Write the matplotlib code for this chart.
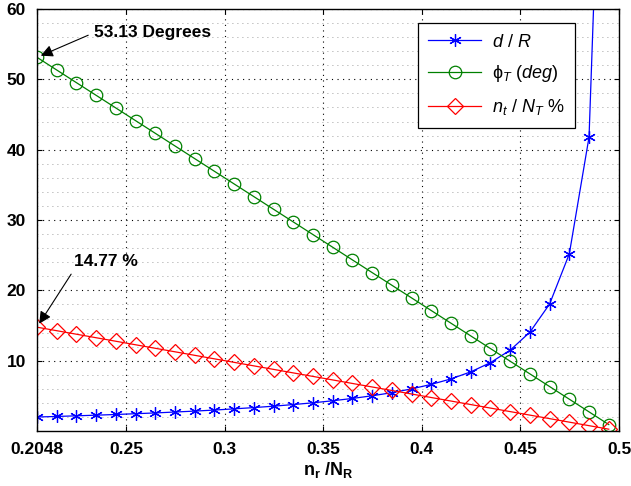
import matplotlib
matplotlib.use("Agg")
import matplotlib.pyplot as plt
from matplotlib.ticker import MultipleLocator

plt.rcParams['font.family'] = ['Liberation Sans', 'DejaVu Sans']
plt.rcParams['mathtext.fontset'] = 'custom'
plt.rcParams['mathtext.rm'] = 'Liberation Sans'
plt.rcParams['mathtext.it'] = 'Liberation Sans:italic'
plt.rcParams['mathtext.bf'] = 'Liberation Sans:bold'

# n_r / N_R
x = [0.2048, 0.2148, 0.2248, 0.2348, 0.2448, 0.2548, 0.2648, 0.2748, 0.2848, 0.2948,
     0.3048, 0.3148, 0.3248, 0.3348, 0.3448, 0.3548, 0.3648, 0.3748, 0.3848, 0.3948,
     0.4048, 0.4148, 0.4248, 0.4348, 0.4448, 0.4548, 0.4648, 0.4748, 0.4848, 0.4948]

d_R = [2.00, 2.08, 2.17, 2.26, 2.36, 2.47, 2.58, 2.71, 2.84, 2.99,
       3.16, 3.34, 3.54, 3.77, 4.02, 4.31, 4.64, 5.02, 5.46, 6.00,
       6.64, 7.42, 8.42, 9.73, 11.50, 14.06, 18.06, 25.2, 41.8, 121.9]

phi_T = [53.13, 51.33, 49.53, 47.73, 45.93, 44.13, 42.33, 40.53, 38.73, 36.93,
         35.13, 33.33, 31.53, 29.73, 27.93, 26.13, 24.33, 22.53, 20.73, 18.93,
         17.13, 15.33, 13.53, 11.73, 9.93, 8.13, 6.33, 4.53, 2.73, 0.93]

nt_NT = [14.77, 14.27, 13.77, 13.27, 12.77, 12.27, 11.77, 11.27, 10.77, 10.27,
         9.77, 9.27, 8.77, 8.27, 7.77, 7.27, 6.77, 6.27, 5.77, 5.27,
         4.77, 4.27, 3.77, 3.27, 2.77, 2.27, 1.77, 1.27, 0.77, 0.27]

xticks = [0.2048, 0.25, 0.3, 0.35, 0.4, 0.45, 0.5]
xticklabels = ['0.2048', '0.25', '0.3', '0.35', '0.4', '0.45', '0.5']
yticks = [10, 20, 30, 40, 50, 60]

fig = plt.figure(figsize=(6.31, 4.86), dpi=100)
ax = fig.add_axes([0.0586, 0.113, 0.9224, 0.8685])

ax.plot(x, d_R, color='blue', lw=0.9, marker=(6, 2, 0), ms=9, mew=0.9,
        label=r'$d\ /\ R$')
ax.plot(x, phi_T, color='green', lw=0.9, marker='o', ms=9, mfc='none', mew=0.9,
        label='\u03d5$_T$ $(deg)$')
ax.plot(x, nt_NT, color='red', lw=0.9, marker='D', ms=8, mfc='none', mew=0.9,
        label=r'$n_t\ /\ N_T$ %')

ax.set_xlim(0.2048, 0.5)
ax.set_ylim(0, 60)
ax.set_xticks(xticks)
ax.set_xticklabels(xticklabels)
ax.set_yticks(yticks)
ax.yaxis.set_minor_locator(MultipleLocator(2))
ax.tick_params(which='both', direction='in', top=True, right=True,
               labelsize=12.5, pad=8)
ax.tick_params(which='minor', length=0)
for lab in ax.get_xticklabels() + ax.get_yticklabels():
    lab.set_fontweight('bold')

ax.grid(True, which='major', ls=(0, (1, 4)), color='black', lw=0.8)
ax.yaxis.grid(True, which='minor', ls=(0, (1, 5)), color='gray', lw=0.6)
for s in ax.spines.values():
    s.set_linewidth(1.0)

ax.set_xlabel(r'$\mathbf{n_r}$ /$\mathbf{N_R}$', fontsize=13, fontweight='bold',
              labelpad=2)

leg = ax.legend(loc='upper right', bbox_to_anchor=(0.9244, 0.967), borderaxespad=0,
                fontsize=13, fancybox=False, edgecolor='black', framealpha=1,
                handlelength=2.9, labelspacing=0.7, borderpad=0.6,
                handletextpad=0.6)
leg.get_frame().set_linewidth(0.9)

ax.annotate('53.13 Degrees', xy=(x[0], phi_T[0]), xytext=(0.2335, 56.6),
            fontsize=12.5, fontweight='bold', va='center',
            arrowprops=dict(arrowstyle='-|>', color='black', lw=0.8,
                            mutation_scale=18, shrinkA=2, shrinkB=3,
                            relpos=(0, 0.5)))
ax.annotate('14.77 %', xy=(x[0], nt_NT[0]), xytext=(0.2238, 24.1),
            fontsize=12.5, fontweight='bold', va='center',
            arrowprops=dict(arrowstyle='-|>', color='black', lw=0.8,
                            mutation_scale=18, shrinkA=2, shrinkB=3,
                            relpos=(0, 0)))

fig.savefig('out.png', dpi=100)
